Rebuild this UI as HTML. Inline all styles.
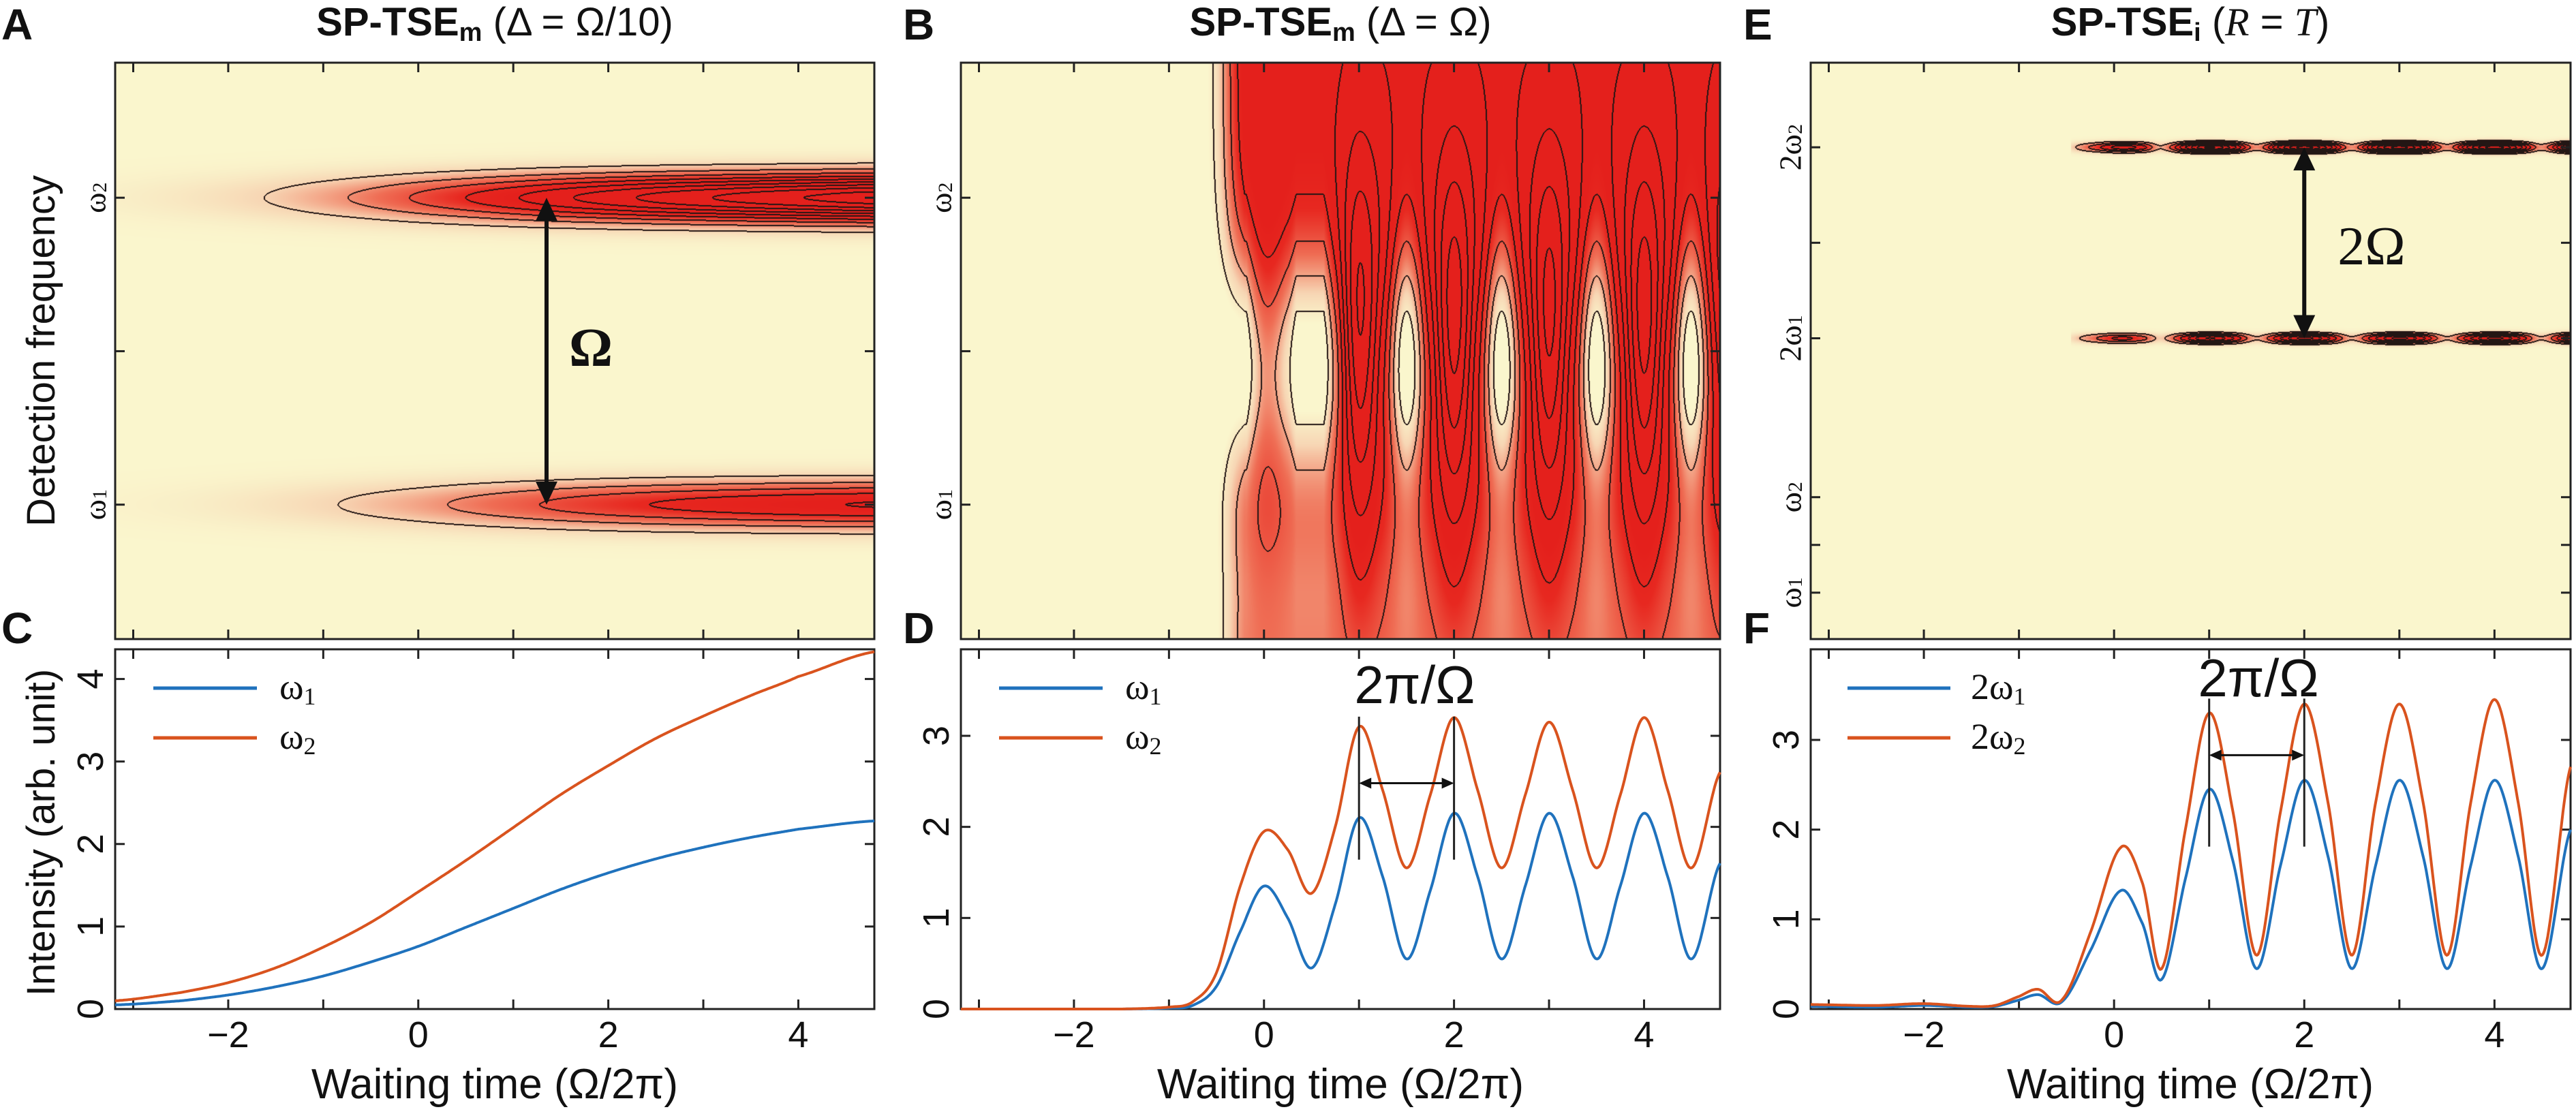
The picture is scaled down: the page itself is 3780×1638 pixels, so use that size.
<!DOCTYPE html>
<html><head><meta charset="utf-8">
<style>
body{margin:0;width:3780px;height:1638px;background:#fff;overflow:hidden;position:relative;font-family:"Liberation Sans",sans-serif}
canvas{position:absolute}
svg{position:absolute;left:0;top:0}
</style></head>
<body>
<canvas id="hmA" style="left:169px;top:92px" width="1114" height="846"></canvas>
<canvas id="hmB" style="left:1410px;top:92px" width="1114" height="846"></canvas>
<canvas id="hmE" style="left:2657px;top:92px" width="1115" height="846"></canvas>
<svg id="ov" width="3780" height="1638">
  <g font-family="Liberation Sans, sans-serif" font-weight="bold" font-size="64" fill="#111">
    <text x="2" y="58">A</text>
    <text x="2" y="944">C</text>
    <text x="1325" y="58">B</text>
    <text x="1325" y="944">D</text>
    <text x="2558" y="58">E</text>
    <text x="2558" y="944">F</text>
  </g>
  <g font-family="Liberation Sans, sans-serif" font-size="58" fill="#111" text-anchor="middle">
    <text x="726" y="52"><tspan font-weight="bold">SP-TSE</tspan><tspan font-weight="bold" font-size="38" dy="8">m</tspan><tspan dy="-8"> (Δ = Ω/10)</tspan></text>
    <text x="1967" y="52"><tspan font-weight="bold">SP-TSE</tspan><tspan font-weight="bold" font-size="38" dy="8">m</tspan><tspan dy="-8"> (Δ = Ω)</tspan></text>
    <text x="3214" y="52"><tspan font-weight="bold">SP-TSE</tspan><tspan font-weight="bold" font-size="38" dy="8">i</tspan><tspan dy="-8"> (</tspan><tspan font-family="Liberation Serif, serif" font-style="italic">R</tspan><tspan> = </tspan><tspan font-family="Liberation Serif, serif" font-style="italic">T</tspan><tspan>)</tspan></text>
  </g>
  <g font-family="Liberation Sans, sans-serif" font-size="58" fill="#111" text-anchor="middle">
    <text transform="translate(80,515) rotate(-90)">Detection frequency</text>
    <text transform="translate(80,1222) rotate(-90)">Intensity (arb. unit)</text>
  </g>
  <g font-family="Liberation Sans, sans-serif" font-size="62" fill="#111" text-anchor="middle">
    <text x="726" y="1612">Waiting time (Ω/2π)</text>
    <text x="1967" y="1612">Waiting time (Ω/2π)</text>
    <text x="3214" y="1612">Waiting time (Ω/2π)</text>
  </g>
  <g font-family="Liberation Serif, serif" font-size="54" fill="#111">
    <text x="410" y="1026">ω<tspan font-size="36" dy="8">1</tspan></text>
    <text x="410" y="1099">ω<tspan font-size="36" dy="8">2</tspan></text>
    <text x="1651" y="1026">ω<tspan font-size="36" dy="8">1</tspan></text>
    <text x="1651" y="1099">ω<tspan font-size="36" dy="8">2</tspan></text>
    <text x="2892" y="1026">2ω<tspan font-size="36" dy="8">1</tspan></text>
    <text x="2892" y="1099">2ω<tspan font-size="36" dy="8">2</tspan></text>
  </g>
  <text x="867" y="537" font-family="Liberation Serif, serif" font-weight="bold" font-size="80" fill="#111" text-anchor="middle">Ω</text>
  <text x="3480" y="388" font-family="Liberation Serif, serif" font-size="80" fill="#111" text-anchor="middle">2Ω</text>
  <text x="2076" y="1032" font-family="Liberation Sans, sans-serif" font-size="78" fill="#111" text-anchor="middle">2π/Ω</text>
  <text x="3314" y="1022" font-family="Liberation Sans, sans-serif" font-size="78" fill="#111" text-anchor="middle">2π/Ω</text>
  <g id="dyn"></g>
</svg>
<script>
// ---------- data ----------
const tC = [-3.19,-2.5,-2,-1.5,-1,-0.5,0,0.5,1,1.5,2,2.5,3,3.5,4,4.8];
const C1 = [0.05,0.1,0.17,0.27,0.4,0.57,0.76,0.99,1.22,1.45,1.65,1.82,1.96,2.08,2.18,2.28];
const C2 = [0.1,0.2,0.32,0.5,0.75,1.05,1.42,1.8,2.2,2.6,2.95,3.28,3.55,3.8,4.03,4.33];
const tD = [-3.19,-1.5,-1,-0.75,-0.5,-0.25,0,0.25,0.5,0.75,1,1.25,1.5,1.75,2,2.25,2.5,2.75,3,3.25,3.5,3.75,4,4.25,4.5,4.8];
const D1 = [0,0,0.01,0.04,0.25,0.85,1.35,1.0,0.45,1.15,2.1,1.45,0.55,1.3,2.15,1.45,0.55,1.35,2.15,1.45,0.55,1.35,2.15,1.45,0.55,1.6];
const D2 = [0,0,0.02,0.08,0.4,1.35,1.95,1.75,1.27,2.0,3.1,2.4,1.55,2.35,3.2,2.4,1.55,2.35,3.15,2.4,1.55,2.35,3.2,2.4,1.55,2.6];
const tF = [-3.19,-2.5,-2,-1.5,-1.25,-1,-0.8,-0.55,-0.25,0.07,0.3,0.5,0.75,1,1.25,1.5,1.75,2,2.25,2.5,2.75,3,3.25,3.5,3.75,4,4.25,4.5,4.8];
const F1 = [0.03,0.02,0.04,0.02,0.03,0.1,0.16,0.08,0.65,1.32,0.95,0.33,1.45,2.45,1.65,0.45,1.6,2.55,1.7,0.45,1.6,2.55,1.7,0.45,1.6,2.55,1.7,0.45,2.0];
const F2 = [0.05,0.04,0.06,0.03,0.04,0.14,0.22,0.1,0.85,1.8,1.4,0.45,2.0,3.3,2.2,0.6,2.2,3.4,2.3,0.6,2.3,3.4,2.3,0.6,2.3,3.45,2.3,0.6,2.7];
const xTicks = [-3,-2,-1,0,1,2,3,4];
const xTickLabels = ['−2','0','2','4'];
const xLabelVals = [-2,0,2,4];
const yTicksC = [0,1,2,3,4];
const yTicksDF = [0,1,2,3];
const yTicksAB = [1,1.5,2];
const yLabValsAB = [1,2];
const yLabTextAB = ['ω1','ω2'];
const yTicksE = [2.664,3.164,3.664,5.328,6.328,7.328];
const yLabValsE = [2.664,3.664,5.328,7.328];
const yLabTextE = ['ω1','ω2','2ω1','2ω2'];

const XD=[-3.19,4.8];
const TOP=[92,938], BOT=[953,1481];
const PX={A:[169,1283],B:[1410,2524],E:[2657,3772]};
const BLUE='#1f72bd', ORANGE='#d9531e';

function interp(ts,vs,t){
  const n=ts.length;
  if(t<=ts[0])return vs[0]; if(t>=ts[n-1])return vs[n-1];
  let i=0; while(i<n-2 && t>ts[i+1]) i++;
  const u=(t-ts[i])/(ts[i+1]-ts[i]);
  const p0=vs[Math.max(i-1,0)],p1=vs[i],p2=vs[i+1],p3=vs[Math.min(i+2,n-1)];
  const v=0.5*(2*p1+(-p0+p2)*u+(2*p0-5*p1+4*p2-p3)*u*u+(-p0+3*p1-3*p2+p3)*u*u*u);
  return Math.max(v,0);
}
function sx(p,t){const r=PX[p];return r[0]+(t-XD[0])/(XD[1]-XD[0])*(r[1]-r[0]);}
function sy(rng,lo,hi,v){return rng[1]-(v-lo)/(hi-lo)*(rng[1]-rng[0]);}

const NS='http://www.w3.org/2000/svg';
const dyn=document.getElementById('dyn');
function el(tag,attrs,parent){const e=document.createElementNS(NS,tag);for(const k in attrs)e.setAttribute(k,attrs[k]);(parent||dyn).appendChild(e);return e;}

// ---------- heatmaps ----------
const STOPS=[[0,250,246,205],[0.2,247,214,180],[0.5,239,110,85],[0.8,231,40,32],[1,228,32,28]];
function cmap(n){n=Math.max(0,Math.min(1,n));for(let i=0;i<STOPS.length-1;i++){const a=STOPS[i],b=STOPS[i+1];if(n<=b[0]){const u=(n-a[0])/(b[0]-a[0]);return [a[1]+(b[1]-a[1])*u,a[2]+(b[2]-a[2])*u,a[3]+(b[3]-a[3])*u];}}return STOPS[STOPS.length-1].slice(1);}
function G(d,w){return Math.exp(-(d/w)*(d/w));}
function renderHeat(id,fLo,fHi,valFn,normFn,step){
  const cv=document.getElementById(id),ctx=cv.getContext('2d');
  const w=cv.width,h=cv.height,vals=new Float32Array(w*h);
  for(let x=0;x<w;x++){
    const t=XD[0]+(x+0.5)/w*(XD[1]-XD[0]);
    const col=valFn(t);
    for(let y=0;y<h;y++){const f=fHi-(y+0.5)/h*(fHi-fLo);vals[y*w+x]=col(f);}
  }
  const img=ctx.createImageData(w,h),d=img.data;
  for(let y=0;y<h;y++)for(let x=0;x<w;x++){
    const i=y*w+x,v=vals[i],k=Math.floor(v/step);
    let edge=false;
    if(x<w-1&&Math.floor(vals[i+1]/step)!==k)edge=true;
    else if(x>0&&Math.floor(vals[i-1]/step)!==k)edge=true;
    else if(y<h-1&&Math.floor(vals[i+w]/step)!==k)edge=true;
    else if(y>0&&Math.floor(vals[i-w]/step)!==k)edge=true;
    let c=edge?[35,22,20]:cmap(normFn(v));
    d[i*4]=c[0];d[i*4+1]=c[1];d[i*4+2]=c[2];d[i*4+3]=255;
  }
  ctx.putImageData(img,0,0);
}
renderHeat('hmA',0.562,2.44,t=>{const a=interp(tC,C1,t),b=interp(tC,C2,t);return f=>a*G(f-1,0.075)+b*G(f-2,0.075);},v=>v/2.2,0.45);
renderHeat('hmB',0.562,2.44,t=>{
  const d2=interp(tD,D2,t);
  const on=(t<0.3)?Math.min(1,d2/1.5):1;
  const osc=Math.max(0,Math.min(1,(d2-1.55)/1.65));
  const hole=1-osc;
  return f=>{
    const P=f<1.3?G(f-1.3,1.2):1;
    const v=on*P*(2.0+1.6*osc*G(f-1.65,0.55))-on*hole*(1.9*G(f-1.45,0.42)+0.5*G(f-0.75,0.3));
    return Math.max(v,0);
  };
},v=>(v-0.3)/1.6,0.42);
renderHeat('hmE',2.178,8.214,t=>{const s=t<-0.45?0:1;const a=s*interp(tF,F1,t),b=s*interp(tF,F2,t);return f=>a*G(f-5.328,0.05)+b*G(f-7.328,0.05);},v=>v/1.4,0.4);

// ---------- axes ----------
function drawAxes(p,rng,lo,hi,yt,ylv,ylt,showX,isFreq){
  const [x0,x1]=PX[p],[y0,y1]=rng;
  const g=el('g',{});
  
  
  for(const t of xTicks){
    const X=sx(p,t);
    const a=el('line',{x1:X,x2:X,y1:y1,y2:y1-14,stroke:'#222','stroke-width':3},g);
    
    
    const b=el('line',{x1:X,x2:X,y1:y0,y2:y0+14,stroke:'#222','stroke-width':3},g);
    
    
  }
  for(const v of yt){
    const Y=sy(rng,lo,hi,v);
    const a=el('line',{x1:x0,x2:x0+14,y1:Y,y2:Y,stroke:'#222','stroke-width':3},g);
    
    
    const b=el('line',{x1:x1,x2:x1-14,y1:Y,y2:Y,stroke:'#222','stroke-width':3},g);
    
    
  }
  for(let i=0;i<ylv.length;i++){
    const Y=sy(rng,lo,hi,ylv[i]),s=ylt[i];
    const tx=el('text',{transform:'translate('+(x0-(isFreq?30:36))+','+Y+') rotate(-90)','text-anchor':'middle','dominant-baseline':'central','font-family':isFreq?'Liberation Serif, serif':'Liberation Sans, sans-serif','font-size':isFreq?46:54,fill:'#111'},g);
    
    
    if(isFreq){
      tx.appendChild(document.createTextNode(s.slice(0,-1)));
      const sb=el('tspan',{'font-size':30,dy:7},tx);sb.textContent=s.slice(-1);
    } else tx.textContent=s;
  }
  if(showX){
    for(let i=0;i<xLabelVals.length;i++){
      const tx=el('text',{x:sx(p,xLabelVals[i]),y:1537,'text-anchor':'middle','font-size':54,fill:'#111'},g);
      
      
      tx.textContent=xTickLabels[i];
    }
  }
  const fr=el('rect',{x:x0,y:y0,width:x1-x0,height:y1-y0,fill:'none',stroke:'#222','stroke-width':3},g);
  
  
}
drawAxes('A',TOP,0.562,2.44,yTicksAB,yLabValsAB,yLabTextAB,false,true);
drawAxes('B',TOP,0.562,2.44,yTicksAB,yLabValsAB,yLabTextAB,false,true);
drawAxes('E',TOP,2.178,8.214,yTicksE,yLabValsE,yLabTextE,false,true);
drawAxes('A',BOT,0,4.36,yTicksC,yTicksC,yTicksC.map(String),true,false);
drawAxes('B',BOT,0,3.95,yTicksDF,yTicksDF,yTicksDF.map(String),true,false);
drawAxes('E',BOT,0,4.01,yTicksDF,yTicksDF,yTicksDF.map(String),true,false);

// ---------- series ----------
function series(p,hi,ts,vs,color,name){
  let d='';
  for(let i=0;i<=700;i++){
    const t=XD[0]+i/700*(XD[1]-XD[0]);
    const X=sx(p,t),Y=sy(BOT,0,hi,interp(ts,vs,t));
    d+=(i?'L':'M')+X.toFixed(1)+','+Y.toFixed(1);
  }
  const e=el('path',{d:d,fill:'none',stroke:color,'stroke-width':4});
  
  
}
series('A',4.36,tC,C1,BLUE,'series-c-w1');
series('A',4.36,tC,C2,ORANGE,'series-c-w2');
series('B',3.95,tD,D1,BLUE,'series-d-w1');
series('B',3.95,tD,D2,ORANGE,'series-d-w2');
series('E',4.01,tF,F1,BLUE,'series-f-2w1');
series('E',4.01,tF,F2,ORANGE,'series-f-2w2');

// legends
function legendLine(p,off1,off2,y,color,name){
  const x0=PX[p][0];
  const e=el('line',{x1:x0+off1,x2:x0+off2,y1:y,y2:y,stroke:color,'stroke-width':5});
  
  
}
legendLine('A',56,208,1010,BLUE,'legend-line-c-w1');
legendLine('A',56,208,1083,ORANGE,'legend-line-c-w2');
legendLine('B',56,208,1010,BLUE,'legend-line-d-w1');
legendLine('B',56,208,1083,ORANGE,'legend-line-d-w2');
legendLine('E',54,205,1010,BLUE,'legend-line-f-2w1');
legendLine('E',54,205,1083,ORANGE,'legend-line-f-2w2');

// ---------- annotations ----------
function dblArrowV(x,ya,yb,lw,hl,hw,name){
  const g=el('g',{});
  
  
  el('line',{x1:x,x2:x,y1:ya+hl-2,y2:yb-hl+2,stroke:'#111','stroke-width':lw},g);
  el('polygon',{points:x+','+ya+' '+(x-hw)+','+(ya+hl)+' '+(x+hw)+','+(ya+hl),fill:'#111'},g);
  el('polygon',{points:x+','+yb+' '+(x-hw)+','+(yb-hl)+' '+(x+hw)+','+(yb-hl),fill:'#111'},g);
}
function dblArrowH(xa,xb,y,name){
  const g=el('g',{});
  
  
  el('line',{x1:xa+14,x2:xb-14,y1:y,y2:y,stroke:'#111','stroke-width':3},g);
  el('polygon',{points:xa+','+y+' '+(xa+18)+','+(y-8)+' '+(xa+18)+','+(y+8),fill:'#111'},g);
  el('polygon',{points:xb+','+y+' '+(xb-18)+','+(y-8)+' '+(xb-18)+','+(y+8),fill:'#111'},g);
}
dblArrowV(sx('A',1.35),sy(TOP,0.562,2.44,2),sy(TOP,0.562,2.44,1),6,34,16,'omega-arrow-a');
dblArrowV(sx('E',2),sy(TOP,2.178,8.214,7.328),sy(TOP,2.178,8.214,5.328),6,34,16,'two-omega-arrow-e');
function periodMark(p,hi,top,bot,ay,name){
  for(const t of [1,2]){
    const e=el('line',{x1:sx(p,t),x2:sx(p,t),y1:sy(BOT,0,hi,top),y2:sy(BOT,0,hi,bot),stroke:'#222','stroke-width':3});
    
    
  }
  dblArrowH(sx(p,1),sx(p,2),sy(BOT,0,hi,ay),name+'-arrow');
}
periodMark('B',3.95,3.21,1.64,2.48,'period-d');
periodMark('E',4.01,3.46,1.81,2.83,'period-f');
</script>
</body></html>
